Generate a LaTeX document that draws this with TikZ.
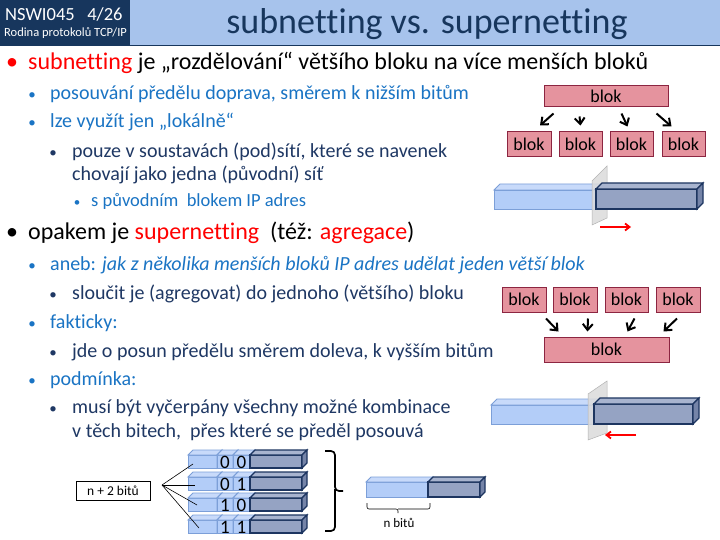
\documentclass[tikz,border=0pt]{standalone}
\usepackage{fontspec}
\setmainfont{Carlito}[Ligatures={NoCommon}]
\usetikzlibrary{arrows.meta,calc}
\definecolor{hdrdark}{HTML}{17365D}
\definecolor{hdrlight}{HTML}{A7C3EC}
\definecolor{titlec}{HTML}{17365D}
\definecolor{blu}{HTML}{1A74C4}
\definecolor{navy}{HTML}{1F3864}
\definecolor{pinkf}{HTML}{E5939E}
\definecolor{pinkb}{HTML}{8C2541}
\definecolor{lbf}{HTML}{B3CDF8}
\definecolor{lbt}{HTML}{C8DAFA}
\definecolor{lbs}{HTML}{9DB9EC}
\definecolor{lbd}{HTML}{7C9FD8}
\definecolor{dbf}{HTML}{95A3C3}
\definecolor{dbt}{HTML}{A8B4CF}
\definecolor{dbs}{HTML}{7584A8}
\definecolor{dbd}{HTML}{1D3560}
\newcommand\mycuboid[6]{%
  \filldraw[#6front] (#1,#2) rectangle (#3,#4);
  \filldraw[#6top] (#1,#2) -- ({#1+#5},{#2-#5}) -- ({#3+#5},{#2-#5}) -- (#3,#2) -- cycle;
  \filldraw[#6side] (#3,#2) -- ({#3+#5},{#2-#5}) -- ({#3+#5},{#4-#5}) -- (#3,#4) -- cycle;}
\begin{document}
\begin{tikzpicture}[x=1pt,y=-1pt,
  lfront/.style={fill=lbf,draw=lbd,line width=0.9pt},
  ltop/.style={fill=lbt,draw=lbd,line width=0.9pt},
  lside/.style={fill=lbs,draw=lbd,line width=0.9pt},
  dfront/.style={fill=dbf,draw=dbd,line width=1.1pt},
  dtop/.style={fill=dbt,draw=dbd,line width=1.1pt},
  dside/.style={fill=dbs,draw=dbd,line width=1.1pt},
  plane/.style={fill=gray!28,draw=gray!60,line width=0.5pt,fill opacity=0.85},
  blokbox/.style={draw=pinkb,fill=pinkf,line width=1pt,inner sep=0pt,font=\fontsize{18}{20}\selectfont},
  blkarr/.style={-{Straight Barb[length=6pt,width=10pt]},line width=2pt},
  redarr/.style={-{Straight Barb[length=4.5pt,width=7pt]},red,line width=1.8pt},
  txt/.style={anchor=base west,inner sep=0pt},
  bul/.style={anchor=base,inner sep=0pt},
  lone/.style={font=\fontsize{24}{28}\selectfont},
  ltwo/.style={font=\fontsize{20}{24}\selectfont,text=blu},
  lthree/.style={font=\fontsize{20}{24}\selectfont,text=navy},
  lfour/.style={font=\fontsize{18.5}{20}\selectfont,text=blu}]
\useasboundingbox (0,0) rectangle (720,540);
\fill[white] (0,0) rectangle (720,540);
% header
\fill[hdrlight] (130,0) rectangle (720,45);
\fill[hdrdark] (0,0) rectangle (130,46);
\draw[hdrdark,line width=1.5pt] (0,45.5) -- (720,45.5);
\node[txt,text=white,font=\fontsize{18.5}{20}\selectfont] (hd1) at (5,21) {NSWI045\ \ \ 4/26};
\node[txt,text=white,font=\fontsize{12.5}{14}\selectfont] (hd2) at (4,37) {Rodina protokolů TCP/IP};
\node[anchor=base,inner sep=0pt,text=titlec,font=\fontsize{36}{40}\selectfont] (title) at (427,34) {subnetting vs. supernetting};
% text
\node[bul,lone,text=red] (b1) at (12,70) {•};
\node[txt,lone] (t1) at (28,70) {\textcolor{red}{subnetting} je „rozdělování“ většího bloku na více menších bloků};
\node[bul,font=\fontsize{15}{16}\selectfont,text=blu] (b2) at (32,100) {•};
\node[txt,ltwo] (t2) at (50,100) {posouvání předělu doprava, směrem k nižším bitům};
\node[bul,font=\fontsize{15}{16}\selectfont,text=blu] (b3) at (32,128) {•};
\node[txt,ltwo] (t3) at (50,128) {lze využít jen „lokálně“};
\node[bul,font=\fontsize{15}{16}\selectfont,text=navy] (b4) at (53,158) {•};
\node[txt,lthree] (t4) at (72,158) {pouze v soustavách (pod)sítí, které se navenek};
\node[txt,lthree] (t5) at (72,181) {chovají jako jedna (původní) síť};
\node[bul,font=\fontsize{13}{14}\selectfont,text=blu] (b6) at (77,207) {•};
\node[txt,lfour] (t6) at (91,207) {s původním\ \ blokem IP adres};
\node[bul,lone] (b7) at (12,240) {•};
\node[txt,lone] (t7) at (28,240) {opakem je \textcolor{red}{supernetting}\ \ (též: \textcolor{red}{agregace})};
\node[bul,font=\fontsize{15}{16}\selectfont,text=blu] (b8) at (32,270) {•};
\node[txt,ltwo] (t8) at (50,270) {aneb: \textit{jak z několika menších bloků IP adres udělat jeden větší blok}};
\node[bul,font=\fontsize{15}{16}\selectfont,text=navy] (b9) at (53,299) {•};
\node[txt,lthree] (t9) at (72,299) {sloučit je (agregovat) do jednoho (většího) bloku};
\node[bul,font=\fontsize{15}{16}\selectfont,text=blu] (b10) at (32,328) {•};
\node[txt,ltwo] (t10) at (50,328) {fakticky:};
\node[bul,font=\fontsize{15}{16}\selectfont,text=navy] (b11) at (53,357) {•};
\node[txt,lthree] (t11) at (72,357) {jde o posun předělu směrem doleva, k vyšším bitům};
\node[bul,font=\fontsize{15}{16}\selectfont,text=blu] (b12) at (32,385) {•};
\node[txt,ltwo] (t12) at (50,385) {podmínka:};
\node[bul,font=\fontsize{15}{16}\selectfont,text=navy] (b13) at (53,413) {•};
\node[txt,lthree] (t13) at (72,413) {musí být vyčerpány všechny možné kombinace};
\node[txt,lthree] (t14) at (72,437) {v těch bitech,\ \ přes které se předěl posouvá};
% subnetting blocks
\node[blokbox,minimum width=124pt,minimum height=21pt] (B1) at (606,96.5) {blok};
\node[blokbox,minimum width=44pt,minimum height=25pt] (S1) at (529,144.5) {blok};
\node[blokbox,minimum width=43pt,minimum height=25pt] (S2) at (580.5,144.5) {blok};
\node[blokbox,minimum width=43pt,minimum height=25pt] (S3) at (631.5,144.5) {blok};
\node[blokbox,minimum width=43pt,minimum height=25pt] (S4) at (683.5,144.5) {blok};
\draw[blkarr] ($(B1.south west)+(10,6)$) -- ($(S1.north)+(11,-6)$);
\draw[blkarr] ($(B1.south west)+(36,9)$) -- ($(S2.north)+(0,-6)$);
\draw[blkarr] ($(B1.south west)+(78,6)$) -- ($(S3.north)+(-4,-5)$);
\draw[blkarr] ($(B1.south west)+(113,6)$) -- ($(S4.north)+(-12,-5)$);
% bars top
\mycuboid{494}{190}{596}{209}{6}{l}
\filldraw[plane] (592,181) -- (607,166) -- (607,218) -- (592,225) -- cycle;
\mycuboid{596}{189}{697}{209}{6}{d}
\coordinate (ra1) at (600,227);
\coordinate (ra2) at (631,227);
\draw[redarr] (ra1) -- (ra2);
% supernetting blocks
\node[blokbox,minimum width=44pt,minimum height=25pt] (P1) at (524,299.5) {blok};
\node[blokbox,minimum width=44pt,minimum height=25pt] (P2) at (575,299.5) {blok};
\node[blokbox,minimum width=43pt,minimum height=25pt] (P3) at (626.5,299.5) {blok};
\node[blokbox,minimum width=44pt,minimum height=25pt] (P4) at (678,299.5) {blok};
\node[blokbox,minimum width=125pt,minimum height=25pt] (B2) at (606.5,349.5) {blok};
\draw[blkarr] ($(P1.south)+(22,6)$) -- ($(B2.north west)+(15,-5)$);
\draw[blkarr] ($(P2.south)+(13,6)$) -- ($(B2.north west)+(44,-5)$);
\draw[blkarr] ($(P3.south)+(8,6)$) -- ($(B2.north west)+(84,-5)$);
\draw[blkarr] ($(P4.south)+(-1,6)$) -- ($(B2.north west)+(120,-5)$);
% bars bottom right
\mycuboid{491}{405}{594}{424}{6}{l}
\filldraw[plane] (588,394) -- (607,381) -- (607,433) -- (588,440) -- cycle;
\mycuboid{594}{404}{693}{424}{6}{d}
\coordinate (rb1) at (636,435);
\coordinate (rb2) at (605,435);
\draw[redarr] (rb1) -- (rb2);
% bottom stacks
\foreach \yy/\ba/\bb [count=\i] in {455/0/0,477/0/1,498/1/0,520/1/1}{
  \mycuboid{188}{\yy}{217}{\yy+13}{5}{l}
  \mycuboid{217}{\yy}{233}{\yy+13}{5}{l}
  \mycuboid{233}{\yy}{250}{\yy+13}{5}{l}
  \mycuboid{250}{\yy}{302}{\yy+13}{5}{d}
  \node[inner sep=0pt,font=\fontsize{19}{20}\selectfont] (ba\i) at (225,\yy+7) {\ba};
  \node[inner sep=0pt,font=\fontsize{19}{20}\selectfont] (bb\i) at (241.5,\yy+7) {\bb};
}
\node[draw,line width=0.8pt,minimum width=74pt,minimum height=19pt,inner sep=0pt,font=\fontsize{13.5}{15}\selectfont] (n2) at (113,491) {n + 2 bitů};
\coordinate (apex) at (162,485);
\coordinate (f1) at (193,464);
\coordinate (f2) at (195,485);
\coordinate (f3) at (197,505);
\coordinate (f4) at (199,528);
\foreach \f in {f1,f2,f3,f4} \draw[line width=0.6pt] (apex) -- (\f);
% big brace
\draw[line width=1.7pt,rounded corners=4pt] (325,451) -| (335,491) -- (343,491);
\draw[line width=1.7pt,rounded corners=4pt] (335,489) |- (325,531);
% n bits bar
\mycuboid{366}{482}{428}{497}{5}{l}
\mycuboid{428}{482}{480}{497}{5}{d}
\draw[line width=0.6pt,rounded corners=2pt] (367,503) |- (398,509) -- (398,513);
\draw[line width=0.6pt,rounded corners=2pt] (430,503) |- (398,509);
\node[anchor=base,inner sep=0pt,font=\fontsize{13}{15}\selectfont] (nb) at (399,527) {n bitů};
\end{tikzpicture}
\end{document}
